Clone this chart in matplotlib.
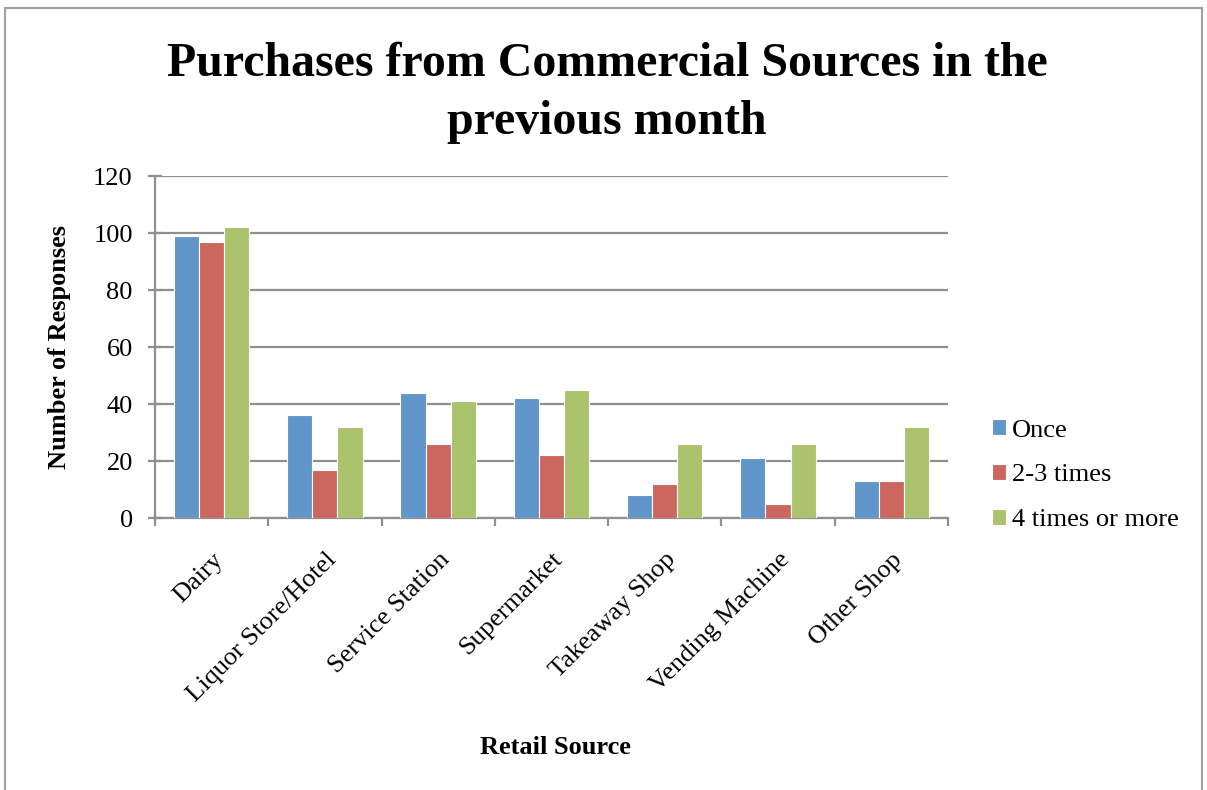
import numpy as np
import matplotlib.pyplot as plt
from matplotlib.patches import Rectangle

plt.rcParams['font.family'] = ['Liberation Serif', 'DejaVu Serif']

categories = ['Dairy', 'Liquor Store/Hotel', 'Service Station', 'Supermarket',
              'Takeaway Shop', 'Vending Machine', 'Other Shop']
once = [99, 36, 44, 42, 8, 21, 13]
two_three = [97, 17, 26, 22, 12, 5, 13]
four_more = [102, 32, 41, 45, 26, 26, 32]
series_names = ['Once', '2-3 times', '4 times or more']
colors = ['#6096CA', '#CC6760', '#AAC36C']

fig = plt.figure(figsize=(12.07, 7.90), dpi=100)
ax = fig.add_axes([0.1284, 0.3443, 0.6570, 0.4329])

x = np.arange(len(categories))
w = 0.222
for i, (vals, name, c) in enumerate(zip([once, two_three, four_more], series_names, colors)):
    ax.bar(x + (i - 1) * w, vals, w, color=c, edgecolor='white', linewidth=0.8,
           label=name, zorder=3)

ax.set_xlim(-0.5, len(categories) - 0.5)
ax.set_ylim(0, 120)
ax.set_yticks(range(0, 121, 20))
ax.yaxis.grid(True, color='#8f8f8f', linewidth=1.6, zorder=0)
ax.set_axisbelow(True)

# category boundaries carry the x ticks, labels sit at the centres
ax.set_xticks(np.arange(-0.5, len(categories), 1.0))
ax.set_xticklabels([])
ax.set_xticks(x, minor=True)
ax.set_xticklabels(categories, minor=True, rotation=45, ha='right',
                   rotation_mode='anchor', fontsize=19)
ax.tick_params(axis='x', which='minor', length=0, pad=22)
ax.tick_params(axis='x', which='major', length=6, width=1.6, color='#8f8f8f')
ax.tick_params(axis='y', direction='inout', length=10, width=1.6, color='#8f8f8f',
               labelsize=19, pad=11)

for s in ['top', 'right']:
    ax.spines[s].set_visible(False)
for s in ['left', 'bottom']:
    ax.spines[s].set_color('#8f8f8f')
    ax.spines[s].set_linewidth(1.6)

ax.set_ylabel('Number of Responses', fontsize=19, fontweight='bold', labelpad=16)
fig.text(0.46, 0.054, 'Retail Source', fontsize=19, fontweight='bold', ha='center', va='center')
fig.text(0.503, 0.882, 'Purchases from Commercial Sources in the\nprevious month',
         fontsize=34.5, fontweight='bold', ha='center', va='center', linespacing=1.4)

ax.legend(loc='center left', bbox_to_anchor=(1.042, 0.125), frameon=False, fontsize=19,
          borderaxespad=0, handlelength=0.55, handleheight=0.55, handletextpad=0.2,
          labelspacing=0.85)

fig.patches.append(Rectangle((0.004, -0.05), 0.992, 1.04, transform=fig.transFigure,
                             fill=False, edgecolor='#a0a0a0', linewidth=1.5))

fig.savefig('out.png', dpi=100)
